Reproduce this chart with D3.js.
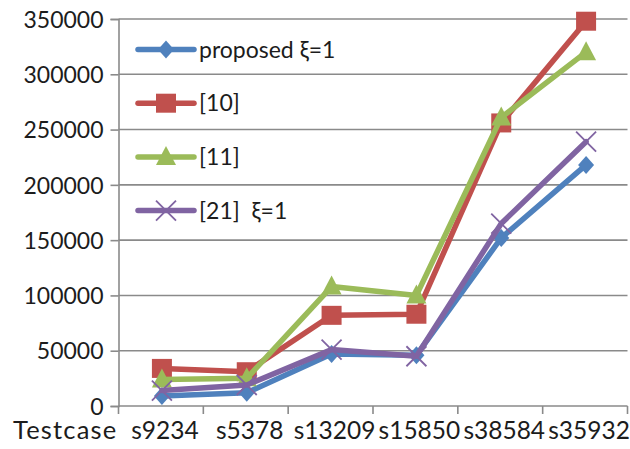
<!DOCTYPE html>
<html>
<head>
<meta charset="utf-8">
<script src="https://cdn.jsdelivr.net/npm/d3@7"></script>
<style>
  html, body { margin: 0; padding: 0; background: #fff; }
  svg { display: block; }
  text { font-family: Lato, "Open Sans", sans-serif; fill: #1c1c1c; white-space: pre; }
</style>
</head>
<body>
<svg id="chart" width="630" height="449"></svg>
<script>
// Testcase names along the x axis
const categories = ["s9234", "s5378", "s13209", "s15850", "s38584", "s35932"];

// One value per testcase for each method
const proposed = [9000, 12000, 47000, 46000, 152000, 218000];
const ref10 = [34000, 31000, 82000, 83000, 256000, 348000];
const ref11 = [24000, 25000, 108000, 100000, 261000, 320000];
const ref21 = [14000, 19000, 51000, 45000, 165000, 239000];

// Value axis ticks
const yTicks = [0, 50000, 100000, 150000, 200000, 250000, 300000, 350000];

const seriesNames = ["proposed \u03be=1", "[10]", "[11]", "[21]  \u03be=1"];
const seriesColors = ["#4f81bd", "#c0504d", "#9bbb59", "#8064a2"];
const seriesMarkers = ["diamond", "square", "triangle", "cross"];

const series = [proposed, ref10, ref11, ref21].map((values, i) => ({
  name: seriesNames[i], color: seriesColors[i], marker: seriesMarkers[i], values
}));

const svg = d3.select("#chart");
const plotLeft = 118.5, plotRight = 627.5, plotTop = 19, plotBottom = 406;

const x = d3.scaleBand().domain(categories).range([plotLeft, plotRight]);
const y = d3.scaleLinear().domain([0, 350000]).range([plotBottom, plotTop]);
const cx = c => x(c) + x.bandwidth() / 2 + 1;

// Horizontal gridlines
svg.append("g")
  .selectAll("line")
  .data(yTicks.filter(t => t > 0))
  .join("line")
  .attr("x1", plotLeft).attr("x2", plotRight)
  .attr("y1", d => y(d)).attr("y2", d => y(d))
  .attr("stroke", "#8a8a8a").attr("stroke-width", 1.6);

// Value axis with outward ticks
const yAxis = svg.append("g")
  .attr("transform", `translate(${plotLeft},0)`)
  .call(d3.axisLeft(y).tickValues(yTicks).tickSize(8).tickPadding(6).tickFormat(d3.format("d")));
yAxis.select(".domain").attr("stroke", "#8a8a8a").attr("stroke-width", 1.6);
yAxis.selectAll(".tick line").attr("stroke", "#8a8a8a").attr("stroke-width", 1.6);
yAxis.selectAll(".tick text")
  .attr("font-size", 23).attr("font-family", "Lato, sans-serif")
  .attr("fill", "#1c1c1c").attr("dy", "0.36em").attr("x", -15);

// Category axis: ticks sit on band boundaries
const boundaries = categories.map(c => x(c)).concat([plotRight]);
const xAxisG = svg.append("g");
xAxisG.append("line")
  .attr("x1", plotLeft).attr("x2", plotRight).attr("y1", plotBottom).attr("y2", plotBottom)
  .attr("stroke", "#8a8a8a").attr("stroke-width", 1.6);
xAxisG.selectAll("line.tk")
  .data(boundaries)
  .join("line").attr("class", "tk")
  .attr("x1", d => d).attr("x2", d => d)
  .attr("y1", plotBottom).attr("y2", plotBottom + 8)
  .attr("stroke", "#8a8a8a").attr("stroke-width", 1.6);
xAxisG.selectAll("text.cat")
  .data(categories)
  .join("text").attr("class", "cat")
  .attr("x", d => cx(d) + 3).attr("y", 439)
  .attr("text-anchor", "middle").attr("font-size", 24.5)
  .text(d => d);
xAxisG.append("text")
  .attr("x", 13).attr("y", 439)
  .attr("font-size", 25.5).attr("letter-spacing", 1.2)
  .text("Testcase");

// Marker shapes
function drawMarker(g, type, color) {
  if (type === "diamond") {
    g.append("path").attr("d", "M0,-9L8,0L0,9L-8,0Z").attr("fill", color);
  } else if (type === "square") {
    g.append("rect").attr("x", -10).attr("y", -9.5).attr("width", 20).attr("height", 19).attr("fill", color);
  } else if (type === "triangle") {
    g.append("path").attr("d", "M0,-11L10,8L-10,8Z").attr("fill", color);
  } else if (type === "cross") {
    g.append("path").attr("d", "M-10,-10L10,10M-10,10L10,-10")
      .attr("stroke", color).attr("stroke-width", 1.8).attr("fill", "none");
  }
}

// Series lines and markers
const line = d3.line().x((d, i) => cx(categories[i])).y(d => y(d));
series.forEach(s => {
  const g = svg.append("g");
  g.append("path")
    .attr("d", line(s.values))
    .attr("fill", "none").attr("stroke", s.color)
    .attr("stroke-width", 5.5).attr("stroke-linejoin", "round").attr("stroke-linecap", "round");
  s.values.forEach((v, i) => {
    const m = g.append("g").attr("transform", `translate(${cx(categories[i])},${y(v)})`);
    drawMarker(m, s.marker, s.color);
  });
});

// Legend inside the plot area
const legend = svg.append("g");
series.forEach((s, i) => {
  const ly = 49.5 + i * 53.7;
  const g = legend.append("g").attr("transform", `translate(0,${ly})`);
  g.append("line").attr("x1", 138).attr("x2", 194).attr("y1", 0).attr("y2", 0)
    .attr("stroke", s.color).attr("stroke-width", 5.5).attr("stroke-linecap", "round");
  const m = g.append("g").attr("transform", "translate(166,0)");
  drawMarker(m, s.marker, s.color);
  g.append("text").attr("x", 199).attr("y", 0).attr("dy", "0.35em")
    .attr("font-size", 23).text(s.name);
});
</script>
</body>
</html>
